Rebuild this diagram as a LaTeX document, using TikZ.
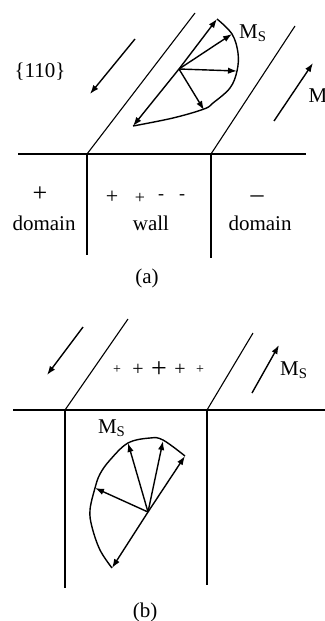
\documentclass[tikz,border=0pt]{standalone}
\usepackage{fontspec}
\setmainfont{Liberation Serif}
\usetikzlibrary{arrows.meta}

\begin{document}
\begin{tikzpicture}[x=0.5pt, y=-0.5pt, line width=0.55pt,
  vec/.style={-{Latex[length=4.5pt,width=3.2pt]}, line width=0.7pt},
  lbl/.style={font=\fontsize{10.5}{12}\selectfont, inner sep=0pt}]

  \useasboundingbox (0,0) rectangle (325,621);

  % -- (a) surface, wall planes and wall edges --
  \draw[line width=0.9pt] (18,154) -- (306,154);
  \draw (87,154) -- (195,13);
  \draw (211,154) -- (295,26);
  \draw (87,154) -- (87,255);
  \draw (211,154) -- (211,258);

  % -- (a) domain magnetisation --
  \coordinate (la1) at (135,39);
  \coordinate (la2) at (90,94);
  \coordinate (ra1) at (274,121);
  \coordinate (ra2) at (313,63);
  \draw[vec] (la1) -- (la2);
  \draw[vec] (ra1) -- (ra2);
  \node[lbl] (ma) at (318,96) {M};
  \node[lbl] (plane) at (40,72) {\{110\}};

  % -- (a) rotation of Ms through the wall --
  \coordinate (ca) at (179,69);
  \coordinate (a1) at (217,19);
  \coordinate (a2) at (232,34);
  \coordinate (a3) at (237,71);
  \coordinate (a4) at (204,110);
  \coordinate (a5) at (133,126);
  \foreach \t in {a1,a2,a3,a4,a5}
    \draw[vec] (ca) -- (\t);
  \draw[line width=0.7pt] plot[smooth, tension=0.6] coordinates
    {(217,19) (232,34) (238,53) (237,71) (230,88) (213,103) (204,109) (173,118) (133,126)};
  \node[lbl] (msa) at (253,33) {M\textsubscript{S}};

  % -- (a) surface charges --
  \node[lbl, font=\fontsize{13}{13}\selectfont] (pd) at (40,194) {+};
  \node[lbl] (dl) at (44,223) {domain};
  \node[lbl, font=\fontsize{11}{11}\selectfont] (w1) at (112,197) {+};
  \node[lbl, font=\fontsize{9}{9}\selectfont] (w2) at (140,198) {+};
  \node[lbl, font=\fontsize{9}{9}\selectfont] (w3) at (161,197) {-};
  \node[lbl, font=\fontsize{9}{9}\selectfont] (w4) at (182,197) {-};
  \node[lbl] (wl) at (151,223) {wall};
  \node[lbl, font=\fontsize{13}{13}\selectfont] (md) at (257,199) {--};
  \node[lbl] (dr) at (260,223) {domain};
  \node[lbl] (capa) at (147,278) {(a)};

  % -- (b) surface, wall planes and wall edges --
  \draw[line width=0.9pt] (13,410) -- (325,410);
  \draw (65,410) -- (128,319);
  \draw (207,410) -- (253,333);
  \draw (65,410) -- (65,588);
  \draw (207,410) -- (207,585);

  % -- (b) domain magnetisation --
  \coordinate (lb1) at (83,327);
  \coordinate (lb2) at (47,375);
  \coordinate (rb1) at (252,393);
  \coordinate (rb2) at (279,345);
  \draw[vec] (lb1) -- (lb2);
  \draw[vec] (rb1) -- (rb2);
  \node[lbl] (msr) at (294,370) {M\textsubscript{S}};

  % -- (b) charges on the surface --
  \node[lbl, font=\fontsize{7}{7}\selectfont] (s1) at (117,370) {+};
  \node[lbl, font=\fontsize{10}{10}\selectfont] (s2) at (138,370) {+};
  \node[lbl, font=\fontsize{14}{14}\selectfont] (s3) at (159,370) {+};
  \node[lbl, font=\fontsize{10}{10}\selectfont] (s4) at (180,370) {+};
  \node[lbl, font=\fontsize{7}{7}\selectfont] (s5) at (200,370) {+};

  % -- (b) rotation of Ms in the surface wall --
  \coordinate (cb) at (148,512);
  \coordinate (b1) at (128,443);
  \coordinate (b2) at (163,441);
  \coordinate (b3) at (185,456);
  \coordinate (b4) at (95,488);
  \coordinate (b5) at (112,568);
  \foreach \t in {b1,b2,b3,b4,b5}
    \draw[vec] (cb) -- (\t);
  \draw[line width=0.7pt] plot[smooth, tension=0.6] coordinates
    {(112,568) (100,550) (92,527) (90,510) (95,488) (100,474) (110,460) (128,443) (150,438) (163,440) (185,456)};
  \node[lbl] (msb) at (112,428) {M\textsubscript{S}};
  \node[lbl] (capb) at (145,612) {(b)};

\end{tikzpicture}
\end{document}
